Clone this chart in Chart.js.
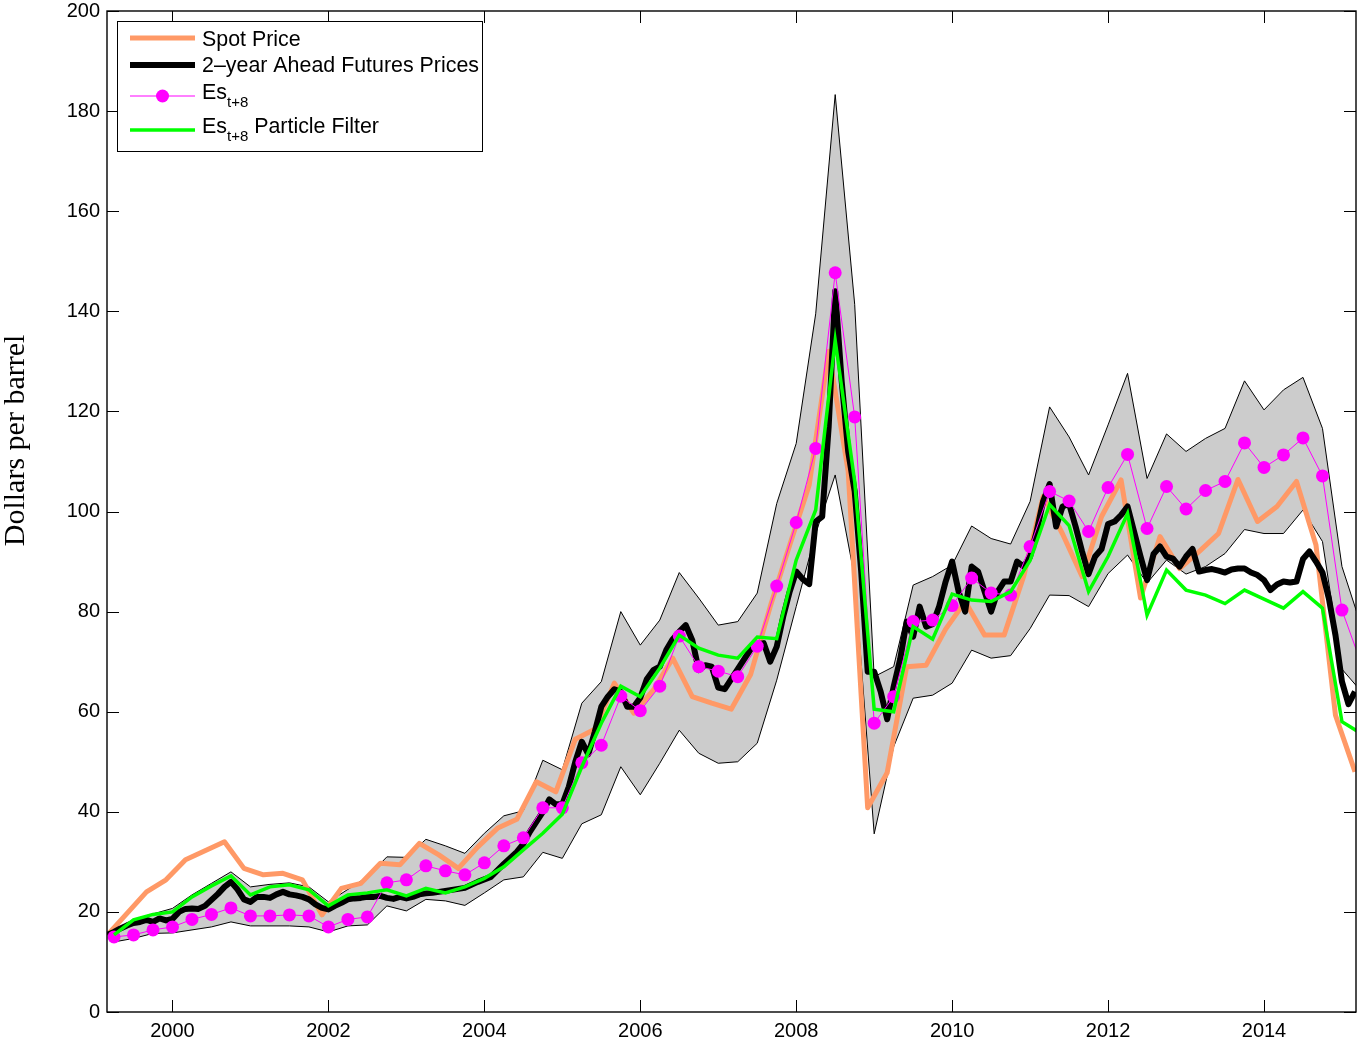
<!DOCTYPE html>
<html>
<head>
<meta charset="utf-8">
<title>Oil price: spot, futures and expected spot</title>
<script src="https://cdn.jsdelivr.net/npm/chart.js@4.4.1/dist/chart.umd.min.js"></script>
<style>
  html, body { margin: 0; padding: 0; background: #ffffff; }
  #wrap { position: relative; width: 1358px; height: 1047px; }
  canvas { display: block; }
</style>
</head>
<body>
<div id="wrap"><canvas id="chart" width="1358" height="1047"></canvas></div>
<script>
// ---- time grids (decimal years) ----
const spotStart = 1999 + 2 / 12;     // first spot / futures observation
const estStart = 1999.25;            // first expected-spot observation
const quarterStep = 0.25;
const monthStep = 1 / 12;
const xMin = 1999.16;
const xMax = 2015.18;

// ---- tick labels ----
const xTickYears = [2000, 2002, 2004, 2006, 2008, 2010, 2012, 2014];
const yTickValues = [0, 20, 40, 60, 80, 100, 120, 140, 160, 180, 200];
const yTitle = 'Dollars per barrel';

// ---- series (dollars per barrel) ----
// quarterly spot price
const spotPrice = [
  15.4, 19.7, 24.0, 26.4, 30.4, 32.2, 34.0, 28.7, 27.4, 27.7, 26.4, 19.4, 24.7,
  25.7, 29.7, 29.4, 33.7, 31.4, 28.7, 33.0, 36.7, 38.5, 46.0, 44.0, 54.5, 56.5,
  65.7, 59.7, 64.3, 70.7, 63.0, 61.7, 60.5, 67.5, 81.0, 93.3, 105.3, 132.0, 108.0,
  40.8, 47.8, 69.0, 69.3, 76.5, 82.0, 75.3, 75.3, 87.0, 103.0, 95.5, 87.0, 99.0,
  106.3, 82.7, 95.0, 88.6, 92.0, 95.6, 106.4, 98.0, 101.0, 106.0, 93.3, 59.3, 48.0
];

// monthly 2-year ahead futures price
const futures2y = [
  15.4, 16.0, 16.7, 17.3, 17.8, 18.0, 18.4, 18.0, 18.7, 18.3, 18.6, 20.0,
  20.6, 20.7, 20.6, 21.2, 22.4, 23.6, 25.0, 26.0, 24.5, 22.5, 22.0, 23.0,
  23.0, 22.8, 23.5, 24.0, 23.5, 23.3, 23.0, 22.5, 21.5, 20.8, 20.5, 21.2,
  21.8, 22.5, 22.7, 22.8, 23.0, 23.0, 23.2, 22.8, 22.6, 23.0, 22.7, 23.0,
  23.5, 23.7, 23.8, 24.0, 24.2, 24.4, 24.6, 24.8, 25.4, 26.0, 26.5, 27.0,
  28.3, 29.6, 30.8, 32.0, 33.6, 36.0, 38.0, 40.0, 42.5, 41.5, 41.5, 45.0,
  50.0, 54.0, 51.5, 56.0, 61.0, 63.0, 64.5, 64.0, 61.0, 61.0, 62.8, 66.5,
  68.3, 69.0, 72.3, 74.5, 76.0, 77.3, 74.3, 68.3, 69.3, 69.0, 64.8, 64.5,
  66.5, 68.5, 70.5, 72.5, 73.5, 73.7, 70.0, 73.0, 79.0, 84.0, 88.0, 86.5,
  85.5, 98.0, 99.0, 117.0, 144.0, 126.0, 112.0, 104.0, 88.0, 68.0, 68.0, 64.0,
  58.5, 65.0, 70.5, 78.0, 75.0, 81.0, 77.0, 77.5, 81.0, 86.0, 90.0, 84.0,
  80.0, 89.0, 88.0, 84.0, 80.0, 84.0, 86.0, 86.0, 90.0, 89.0, 91.0, 96.0,
  102.0, 105.5, 97.0, 101.0, 101.5, 97.0, 92.0, 87.5, 91.0, 92.5, 97.5, 98.0,
  99.3, 101.0, 96.0, 91.0, 86.3, 91.5, 93.0, 91.0, 90.6, 89.0, 91.0, 92.5,
  88.0, 88.3, 88.5, 88.2, 87.8, 88.4, 88.6, 88.6, 87.8, 87.3, 86.3, 84.3,
  85.4, 86.0, 85.8, 86.0, 90.5, 92.0, 90.0, 87.8, 82.5, 75.3, 66.0, 61.5,
  64.0
];

// quarterly expected spot eight quarters ahead
const esT8 = [
  15.0, 15.4, 16.4, 17.0, 18.5, 19.5, 20.8, 19.2, 19.2, 19.4, 19.2, 17.0, 18.5,
  19.0, 25.8, 26.4, 29.2, 28.2, 27.4, 29.8, 33.2, 34.8, 40.8, 40.8, 49.8, 53.3,
  63.1, 60.2, 65.1, 75.1, 69.0, 68.1, 67.0, 73.1, 85.1, 97.8, 112.6, 147.7, 118.9,
  57.7, 63.0, 78.0, 78.3, 81.2, 86.7, 83.7, 83.3, 93.0, 104.0, 102.1, 96.0, 104.8,
  111.4, 96.6, 105.0, 100.5, 104.2, 106.0, 113.7, 108.8, 111.3, 114.7, 107.1, 80.3, 69.5
];

// quarterly expected spot, particle filter estimate
const esT8PF = [
  15.4, 18.4, 19.5, 20.0, 23.0, 25.2, 27.2, 23.4, 25.0, 25.4, 24.4, 21.2, 23.4,
  23.8, 24.4, 23.2, 24.7, 23.8, 25.0, 26.7, 29.0, 32.4, 35.7, 39.5, 49.0, 57.7,
  65.1, 63.0, 68.7, 75.3, 72.7, 71.3, 70.7, 74.9, 74.6, 90.3, 100.3, 134.2, 106.0,
  60.5, 60.0, 77.0, 74.5, 83.5, 82.3, 82.0, 84.0, 90.2, 101.4, 97.2, 84.0, 91.0,
  99.6, 79.3, 88.3, 84.3, 83.3, 81.6, 84.3, 82.5, 80.7, 84.0, 80.7, 58.0, 55.6
];

// confidence band around the expected spot
const bandUpper = [
  16.0, 18.5, 19.6, 20.7, 23.4, 25.7, 28.0, 25.0, 25.5, 25.8, 25.0, 22.0, 24.5,
  27.0, 31.0, 30.9, 34.5, 33.2, 31.7, 35.7, 39.2, 40.2, 50.3, 48.4, 61.7, 66.0,
  80.0, 73.3, 78.3, 87.8, 82.7, 77.3, 78.0, 83.7, 101.6, 113.6, 139.5, 183.3, 141.4,
  67.0, 69.0, 85.3, 87.0, 89.3, 97.1, 94.6, 93.5, 102.0, 120.9, 114.9, 107.3, 117.3,
  127.6, 106.6, 115.5, 112.0, 114.6, 116.6, 126.1, 120.3, 124.3, 126.8, 116.6, 89.0, 77.0
];
const bandLower = [
  14.0, 14.7, 15.7, 15.8, 16.4, 17.0, 18.0, 17.2, 17.2, 17.2, 17.0, 16.0, 17.2,
  17.4, 21.2, 20.2, 22.5, 22.2, 21.3, 23.8, 26.4, 27.0, 31.9, 30.7, 37.6, 39.4,
  49.0, 43.4, 49.7, 56.3, 51.7, 49.7, 50.0, 53.7, 66.3, 81.0, 95.6, 107.3, 86.8,
  35.6, 53.0, 62.7, 63.3, 65.7, 72.3, 70.7, 71.2, 76.6, 83.3, 83.2, 81.0, 87.6,
  91.3, 85.7, 90.3, 87.5, 89.0, 91.6, 96.4, 95.6, 95.6, 100.3, 94.0, 68.5, 64.0
];

// ---- helpers ----
const toPoints = (values, start, step) => values.map((v, i) => ({ x: start + i * step, y: v }));

const COLORS = {
  spot: '#FF9966',
  futures: '#000000',
  est: '#FF00FF',
  pf: '#00FF00',
  band: '#CCCCCC'
};
const SANS = '"Liberation Sans", Arial, Helvetica, sans-serif';
const SERIF = '"Liberation Serif", "Times New Roman", serif';

// keep the plot box fixed: no extra room reserved for overhanging labels
const noScalePadding = s => {
  s.paddingLeft = 0; s.paddingRight = 0; s.paddingTop = 0; s.paddingBottom = 0;
};

// inward ticks on all four sides, like a boxed axes
const axesTicks = {
  id: 'axesTicks',
  beforeDatasetsDraw(chart) {
    const { ctx, chartArea: a, scales: { x, y } } = chart;
    const len = 12;
    ctx.save();
    ctx.strokeStyle = '#000';
    ctx.lineWidth = 1;
    ctx.beginPath();
    x.ticks.forEach(t => {
      const px = Math.round(x.getPixelForValue(t.value)) + 0.5;
      ctx.moveTo(px, a.bottom); ctx.lineTo(px, a.bottom - len);
      ctx.moveTo(px, a.top); ctx.lineTo(px, a.top + len);
    });
    y.ticks.forEach(t => {
      const py = Math.round(y.getPixelForValue(t.value)) + 0.5;
      ctx.moveTo(a.left, py); ctx.lineTo(a.left + len, py);
      ctx.moveTo(a.right, py); ctx.lineTo(a.right - len, py);
    });
    ctx.stroke();
    ctx.restore();
  }
};

// axes box, y-axis title and the legend with subscripted labels
const boxAndLegend = {
  id: 'boxAndLegend',
  afterDraw(chart) {
    const { ctx, chartArea: a } = chart;
    ctx.save();
    ctx.strokeStyle = '#000';
    ctx.lineWidth = 1.4;
    ctx.strokeRect(a.left, a.top, a.right - a.left, a.bottom - a.top);

    // y-axis title, set a little above the middle of the axis
    ctx.save();
    ctx.translate(16, a.top + (a.bottom - a.top) * 0.429);
    ctx.rotate(-Math.PI / 2);
    ctx.fillStyle = '#000';
    ctx.font = '30px ' + SERIF;
    ctx.textAlign = 'center';
    ctx.textBaseline = 'middle';
    ctx.fillText(yTitle, 0, 0);
    ctx.restore();

    // legend
    const lx = a.left + 10, ly = a.top + 10, lw = 366, lh = 131;
    ctx.fillStyle = '#fff';
    ctx.fillRect(lx, ly, lw, lh);
    ctx.lineWidth = 1;
    ctx.strokeRect(lx + 0.5, ly + 0.5, lw - 1, lh - 1);

    const x0 = lx + 13, x1 = lx + 78, tx = lx + 85;
    const main = '21.4px ' + SANS;
    const sub = '15px ' + SANS;
    const seg = (y, color, w) => {
      ctx.strokeStyle = color; ctx.lineWidth = w; ctx.lineCap = 'butt';
      ctx.beginPath(); ctx.moveTo(x0, y); ctx.lineTo(x1, y); ctx.stroke();
    };
    ctx.fillStyle = '#000';
    ctx.textBaseline = 'alphabetic';
    ctx.textAlign = 'left';

    seg(ly + 17, COLORS.spot, 5);
    ctx.font = main; ctx.fillText('Spot Price', tx, ly + 25);

    seg(ly + 44, COLORS.futures, 6);
    ctx.font = main; ctx.fillText('2\u2013year Ahead Futures Prices', tx, ly + 51);

    seg(ly + 75, COLORS.est, 1);
    ctx.fillStyle = COLORS.est;
    ctx.beginPath(); ctx.arc((x0 + x1) / 2, ly + 75, 6.5, 0, Math.PI * 2); ctx.fill();
    ctx.fillStyle = '#000';
    ctx.font = main; ctx.fillText('Es', tx, ly + 78);
    let w = ctx.measureText('Es').width;
    ctx.font = sub; ctx.fillText('t+8', tx + w, ly + 86);

    seg(ly + 109, COLORS.pf, 3.5);
    ctx.font = main; ctx.fillText('Es', tx, ly + 112);
    w = ctx.measureText('Es').width;
    ctx.font = sub; ctx.fillText('t+8', tx + w, ly + 120);
    const ws = ctx.measureText('t+8').width;
    ctx.font = main; ctx.fillText(' Particle Filter', tx + w + ws, ly + 112);
    ctx.restore();
  }
};

const lineBase = { pointRadius: 0, tension: 0, borderJoinStyle: 'round', fill: false };

new Chart(document.getElementById('chart'), {
  type: 'line',
  data: {
    datasets: [
      Object.assign({}, lineBase, {
        label: 'Band upper',
        data: toPoints(bandUpper, estStart, quarterStep),
        borderColor: '#000', borderWidth: 1, borderJoinStyle: 'miter',
        backgroundColor: COLORS.band, fill: '+1', order: 6
      }),
      Object.assign({}, lineBase, {
        label: 'Band lower',
        data: toPoints(bandLower, estStart, quarterStep),
        borderColor: '#000', borderWidth: 1, borderJoinStyle: 'miter', order: 5
      }),
      Object.assign({}, lineBase, {
        label: 'Spot Price',
        data: toPoints(spotPrice, spotStart, quarterStep),
        borderColor: COLORS.spot, borderWidth: 5, order: 4
      }),
      Object.assign({}, lineBase, {
        label: '2-year Ahead Futures Prices',
        data: toPoints(futures2y, spotStart, monthStep),
        borderColor: COLORS.futures, borderWidth: 6, order: 3
      }),
      Object.assign({}, lineBase, {
        label: 'Es t+8',
        data: toPoints(esT8, estStart, quarterStep),
        borderColor: COLORS.est, borderWidth: 1,
        pointRadius: ctx => (ctx.raw && ctx.raw.x > xMax ? 0 : 6.5),
        pointBackgroundColor: COLORS.est, pointBorderWidth: 0, order: 2
      }),
      Object.assign({}, lineBase, {
        label: 'Es t+8 Particle Filter',
        data: toPoints(esT8PF, estStart, quarterStep),
        borderColor: COLORS.pf, borderWidth: 3.5, borderJoinStyle: 'miter', order: 1
      })
    ]
  },
  options: {
    responsive: false,
    animation: false,
    events: [],
    layout: { autoPadding: false, padding: { top: 11, right: 2, left: 0, bottom: 0 } },
    plugins: { legend: { display: false }, tooltip: { enabled: false } },
    scales: {
      x: {
        type: 'linear',
        position: 'bottom',
        min: xMin, max: xMax,
        grid: { display: false, drawTicks: false },
        border: { display: false },
        afterBuildTicks: s => { s.ticks = xTickYears.map(v => ({ value: v })); },
        afterFit: s => { s.height = 35; noScalePadding(s); },
        ticks: {
          color: '#000', padding: 9, maxRotation: 0, autoSkip: false,
          font: { family: SANS, size: 20, lineHeight: 1 },
          callback: v => String(v)
        }
      },
      y: {
        type: 'linear',
        min: 0, max: 200,
        grid: { display: false, drawTicks: false },
        border: { display: false },
        afterBuildTicks: s => { s.ticks = yTickValues.map(v => ({ value: v })); },
        afterFit: s => { s.width = 107; noScalePadding(s); },
        ticks: {
          color: '#000', padding: 7,
          font: { family: SANS, size: 20, lineHeight: 1 },
          callback: v => String(v)
        }
      }
    }
  },
  plugins: [axesTicks, boxAndLegend]
});
</script>
</body>
</html>
